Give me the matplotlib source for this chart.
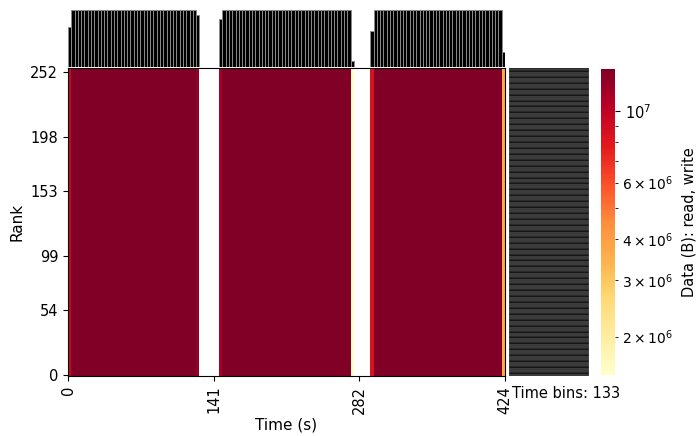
import numpy as np
import matplotlib
matplotlib.use("Agg")
import matplotlib.pyplot as plt
from matplotlib.colors import LogNorm

# bytes moved per rank in each time bin (all ranks look the same)
bin_bytes = (
    [9.5e6] + [1.35e7] * 38 + [1.23e7]       # bins 0-39
    + [0] * 6                                # bins 40-45
    + [1.13e7] + [1.35e7] * 39 + [1.52e6]    # bins 46-86
    + [0] * 5                                # bins 87-91
    + [8.5e6] + [1.35e7] * 39 + [3.6e6]      # bins 92-132
)
n_ranks = 256
xtick_labels = ["0", "141", "282", "424"]
ytick_labels = [0, 54, 99, 153, 198, 252]

n_bins = len(bin_bytes)
data = np.tile(np.array(bin_bytes, dtype=float), (n_ranks, 1))
masked = np.ma.masked_less_equal(data, 0)

fig = plt.figure(figsize=(7, 4.36), dpi=100)
W, H = 700, 436


def px_axes(x0, y0, x1, y1):
    return fig.add_axes([x0 / W, 1 - y1 / H, (x1 - x0) / W, (y1 - y0) / H])


ax = px_axes(68, 68, 505, 376)
ax_top = px_axes(68, 10, 505, 67)
ax_right = px_axes(509, 68, 589, 376)
cax = px_axes(601, 69, 615, 375)

norm = LogNorm(vmin=masked.min(), vmax=masked.max())
mesh = ax.pcolormesh(np.arange(n_bins + 1), np.arange(n_ranks + 1), masked,
                     cmap="YlOrRd", norm=norm)
ax.set_xlim(0, n_bins)
ax.set_ylim(0, n_ranks)
ax.set_xticks(np.linspace(0, n_bins, len(xtick_labels)))
ax.set_xticklabels(xtick_labels, rotation=90, fontsize=10.5)
ax.set_yticks(np.array(ytick_labels) + 0.5)
ax.set_yticklabels([str(v) for v in ytick_labels], fontsize=10.5)
ax.set_xlabel("Time (s)", fontsize=11, labelpad=3)
ax.set_ylabel("Rank", fontsize=11)
for s in ax.spines.values():
    s.set_color("black")

# marginal sums
col_sums = data.sum(axis=0)
row_sums = data.sum(axis=1)
ax_top.bar(np.arange(n_bins) + 0.5, col_sums, width=1, color="black",
           edgecolor="#8a8a8a", linewidth=0.7)
ax_top.set_xlim(0, n_bins)
ax_top.set_ylim(0, col_sums.max())
ax_right.barh(np.arange(n_ranks) + 0.5, row_sums, height=1, color="black",
              edgecolor="#707070", linewidth=0.3)
ax_right.set_ylim(0, n_ranks)
ax_right.set_xlim(0, row_sums.max())
for a in (ax_top, ax_right):
    a.set_xticks([])
    a.set_yticks([])
    for s in a.spines.values():
        s.set_visible(False)

cbar = fig.colorbar(mesh, cax=cax)
cbar.outline.set_visible(False)
cbar.ax.tick_params(labelsize=10.5)
cbar.set_label("Data (B): read, write", fontsize=10.5, labelpad=6)

fig.text(512 / W, 1 - 393 / H, f"Time bins: {n_bins}", fontsize=10.5, va="center")

fig.savefig("out.png", dpi=100)
